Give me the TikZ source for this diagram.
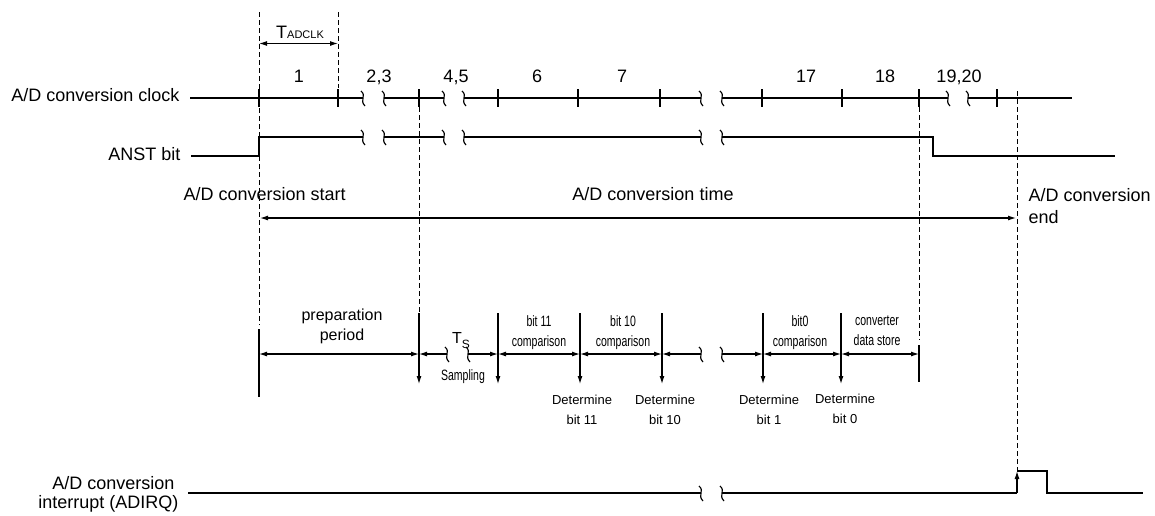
\documentclass[tikz,border=0pt]{standalone}
\usepackage{fontspec}
\usepackage{graphicx}
\setmainfont{Liberation Sans}
\usetikzlibrary{arrows.meta}
\newcommand\cnd[1]{\scalebox{0.7}[1]{\fontsize{15}{15}\selectfont #1}}
\newcommand\brkmark[2]{\draw (#1-2,#2-7) .. controls (#1+4,#2-2) and (#1-4,#2+2) .. (#1+2,#2+8);}
\begin{document}
\begin{tikzpicture}[x=1pt,y=-1pt,line width=1.15pt,
  lab/.style={font=\fontsize{18}{20}\selectfont,inner sep=0pt,anchor=base},
  labr/.style={lab,anchor=base east},
  labl/.style={lab,anchor=base west},
  mid/.style={font=\fontsize{16}{18}\selectfont,inner sep=0pt,anchor=base},
  det/.style={font=\fontsize{13}{15}\selectfont,inner sep=0pt,anchor=base},
  sm/.style={inner sep=0pt,anchor=base},
  dsh/.style={line width=1pt,dash pattern=on 5pt off 3pt},
  tip/.style={-{Latex[length=8pt,width=5pt]}},
  dtip/.style={{Latex[length=8pt,width=5pt]}-{Latex[length=8pt,width=5pt]}},
  rtip/.style={{Latex[length=8pt,width=5pt]}-}]
\useasboundingbox (0,0) rectangle (1155,515);

% ---------- clock ----------
\node[labr] (lclk) at (180,101) {A/D conversion clock};
\draw (190,98) -- (363,98) (384,98) -- (444,98) (464,98) -- (701,98)
      (722,98) -- (948,98) (968,98) -- (1072,98);
\foreach \x in {363,384,444,464,701,722,948,968} {\brkmark{\x}{98}}
\foreach \x in {259,338,419,498,578,660,762,842,919,997}
  {\draw (\x,89) -- (\x,107);}
\node[lab] (n1) at (299,82) {1};
\node[lab] (n23) at (379,82) {2,3};
\node[lab] (n45) at (456,82) {4,5};
\node[lab] (n6) at (537,82) {6};
\node[lab] (n7) at (622,82) {7};
\node[lab] (n17) at (806,82) {17};
\node[lab] (n18) at (885,82) {18};
\node[lab] (n1920) at (959,82) {19,20};

% ---------- TADCLK ----------
\draw[dtip] (259,43.5) -- (338,43.5);
\node[lab] (tad) at (300,38) {T{\fontsize{11}{11}\selectfont ADCLK}};

% ---------- ANST ----------
\node[labr] (lanst) at (181,160) {ANST bit};
\draw (191,156) -- (259,156) -- (259,137) -- (363,137)
      (384,137) -- (444,137) (464,137) -- (701,137)
      (722,137) -- (933,137) -- (933,156) -- (1115,156);
\foreach \x in {363,384,444,464,701,722} {\brkmark{\x}{137}}

% ---------- dashed guides ----------
\draw[dsh] (259,12) -- (259,325);
\draw[dsh] (338,12) -- (338,88);
\draw[dsh] (419,107) -- (419,312);
\draw[dsh] (919,107) -- (919,340);
\draw[dsh] (1017,91) -- (1017,470);

% ---------- conversion time ----------
\node[labl] (lstart) at (183,200) {A/D conversion start};
\node[lab] (ltime) at (653,200) {A/D conversion time};
\node[labl] (lend1) at (1028,201.5) {A/D conversion};
\node[labl] (lend2) at (1028,223) {end};
\draw[dtip] (260,218) -- (1016,218);

% ---------- lower phases ----------
\draw (259,329) -- (259,397);
\draw (919,345) -- (919,382);
\foreach \x in {419,498,580,662,763,841} {\draw[tip] (\x,313) -- (\x,384);}
\draw[dtip] (259,354) -- (419,354);
\draw[rtip] (419,354) -- (447,354);
\draw[tip] (468,354) -- (498,354);
\brkmark{447}{354}\brkmark{468}{354}
\draw[dtip] (498,354) -- (580,354);
\draw[dtip] (580,354) -- (662,354);
\draw[rtip] (662,354) -- (701,354);
\draw[tip] (722,354) -- (763,354);
\brkmark{701}{354}\brkmark{722}{354}
\draw[dtip] (763,354) -- (841,354);
\draw[dtip] (841,354) -- (919,354);

\node[mid] (prep1) at (342,320) {preparation};
\node[mid] (prep2) at (342,340) {period};
\node[lab,font=\fontsize{16}{18}\selectfont] (ts) at (461,343) {T\raisebox{-5pt}{\fontsize{12}{12}\selectfont S}};
\node[sm] (samp) at (463,380) {\cnd{Sampling}};
\node[sm] (c11a) at (539,326.5) {\cnd{bit 11}};
\node[sm] (c11b) at (539,346.5) {\cnd{comparison}};
\node[sm] (c10a) at (623,326.5) {\cnd{bit 10}};
\node[sm] (c10b) at (623,346.5) {\cnd{comparison}};
\node[sm] (c0a) at (800,326.5) {\cnd{bit0}};
\node[sm] (c0b) at (800,346.5) {\cnd{comparison}};
\node[sm] (cda) at (877,325) {\cnd{converter}};
\node[sm] (cdb) at (877,345) {\cnd{data store}};

\node[det] (d11a) at (582,404) {Determine};
\node[det] (d11b) at (582,424) {bit 11};
\node[det] (d10a) at (665,404) {Determine};
\node[det] (d10b) at (665,424) {bit 10};
\node[det] (d1a) at (769,404) {Determine};
\node[det] (d1b) at (769,424) {bit 1};
\node[det] (d0a) at (845,403) {Determine};
\node[det] (d0b) at (845,423) {bit 0};

% ---------- interrupt ----------
\node[labr] (lint1) at (175,489) {A/D conversion};
\node[labr] (lint2) at (179,508) {interrupt (ADIRQ)};
\draw (188,493) -- (701,493) (722,493) -- (1017,493);
\brkmark{701}{493}\brkmark{722}{493}
\draw[tip] (1017,493) -- (1017,471);
\draw (1017,471) -- (1047,471) -- (1047,493) -- (1143,493);
\end{tikzpicture}
\end{document}
